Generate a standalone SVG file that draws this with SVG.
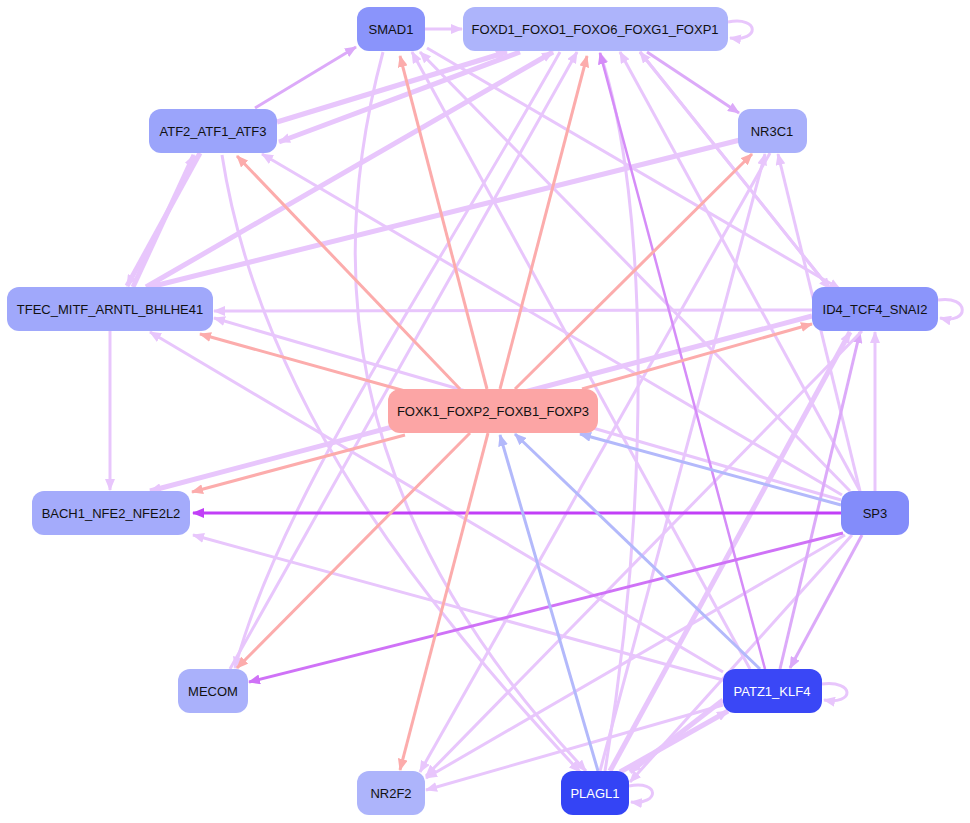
<svg xmlns="http://www.w3.org/2000/svg" width="970" height="823" viewBox="0 0 970 823">
<style>
.n text{font-family:"Liberation Sans",Arial,sans-serif;font-size:13px;text-anchor:middle;dominant-baseline:central;fill:#111}
.n rect{stroke:none}
.w text{fill:#fff}
.e path{fill:none;stroke-linecap:butt}
.lav{stroke:#e8c6fc;stroke-width:3}
.lavT{stroke:#e8c6fc;stroke-width:5}
.lavD{stroke:#dcaaf9;stroke-width:3}
.red{stroke:#fcacac;stroke-width:3}
.blu{stroke:#b3b9fb;stroke-width:3}
.pS{stroke:#c13ff7;stroke-width:3}
.pM{stroke:#cf72f7;stroke-width:3}
.pP{stroke:#d58cf8;stroke-width:2.5}
</style>
<defs>
<marker id="aL" markerUnits="userSpaceOnUse" markerWidth="12" markerHeight="10" refX="11" refY="5" orient="auto"><path d="M0,0 L12,5 L0,10 Z" fill="#e8c6fc"/></marker>
<marker id="aD" markerUnits="userSpaceOnUse" markerWidth="12" markerHeight="10" refX="11" refY="5" orient="auto"><path d="M0,0 L12,5 L0,10 Z" fill="#dcaaf9"/></marker>
<marker id="aR" markerUnits="userSpaceOnUse" markerWidth="12" markerHeight="10" refX="11" refY="5" orient="auto"><path d="M0,0 L12,5 L0,10 Z" fill="#fcacac"/></marker>
<marker id="aB" markerUnits="userSpaceOnUse" markerWidth="12" markerHeight="10" refX="11" refY="5" orient="auto"><path d="M0,0 L12,5 L0,10 Z" fill="#b3b9fb"/></marker>
<marker id="aS" markerUnits="userSpaceOnUse" markerWidth="12" markerHeight="10" refX="11" refY="5" orient="auto"><path d="M0,0 L12,5 L0,10 Z" fill="#c13ff7"/></marker>
<marker id="aM" markerUnits="userSpaceOnUse" markerWidth="12" markerHeight="10" refX="11" refY="5" orient="auto"><path d="M0,0 L12,5 L0,10 Z" fill="#cf72f7"/></marker>
<marker id="aP" markerUnits="userSpaceOnUse" markerWidth="12" markerHeight="10" refX="11" refY="5" orient="auto"><path d="M0,0 L12,5 L0,10 Z" fill="#d58cf8"/></marker>
</defs>
<g id="edges" class="e">
<path class="lav" d="M425,29 L462,29" marker-end="url(#aL)"/>
<path class="lav" d="M728,22 C760,16 760,42 730,38" marker-end="url(#aL)"/>
<path class="lavD" d="M255,108 L356,47" marker-end="url(#aD)"/>
<path class="lavT" d="M277,122 L507,52" marker-end="url(#aL)"/>
<path class="lavT" d="M520,52 L279,142" marker-end="url(#aL)"/>
<path class="lavT" d="M146,287 L553,52" marker-end="url(#aL)"/>
<path class="lavT" d="M200,153 L127,286" marker-end="url(#aL)"/>
<path class="lavT" d="M133,287 L194,155" marker-end="url(#aL)"/>
<path class="lavD" d="M647,52 L739,113" marker-end="url(#aD)"/>
<path class="lavT" d="M740,140 L150,287" marker-end="url(#aL)"/>
<path class="lav" d="M110,331 L110,490" marker-end="url(#aL)"/>
<path class="lav" d="M812,310 L214,311" marker-end="url(#aL)"/>
<path class="lav" d="M841,500 L214,318" marker-end="url(#aL)"/>
<path class="lavT" d="M812,316 L150,491" marker-end="url(#aL)"/>
<path class="lav" d="M938,300 C970,295 970,325 940,318" marker-end="url(#aL)"/>
<path class="lav" d="M875,491 L875,332" marker-end="url(#aL)"/>
<path class="lav" d="M842,495 L262,154" marker-end="url(#aL)"/>
<path class="lav" d="M850,491 L420,52" marker-end="url(#aL)"/>
<path class="lav" d="M860,491 L620,52" marker-end="url(#aL)"/>
<path class="lav" d="M860,491 L778,154" marker-end="url(#aL)"/>
<path class="lavD" d="M862,535 L790,668" marker-end="url(#aD)"/>
<path class="lav" d="M852,535 L630,782" marker-end="url(#aL)"/>
<path class="lav" d="M845,535 L426,778" marker-end="url(#aL)"/>
<path class="lav" d="M427,48 L840,289" marker-end="url(#aL)"/>
<path class="lav" d="M640,52 L830,289" marker-end="url(#aL)"/>
<path class="lav" d="M830,289 L640,52" marker-end="url(#aL)"/>
<path class="lav" d="M822,684 C855,680 855,705 824,700" marker-end="url(#aL)"/>
<path class="lav" d="M629,786 C660,780 660,805 631,802" marker-end="url(#aL)"/>
<path class="lav" d="M750,669 L412,52" marker-end="url(#aL)"/>
<path class="lav" d="M723,680 L193,535" marker-end="url(#aL)"/>
<path class="lav" d="M723,672 L150,332" marker-end="url(#aL)"/>
<path class="lavT" d="M723,700 L630,772" marker-end="url(#aL)"/>
<path class="lavT" d="M620,772 L728,711" marker-end="url(#aL)"/>
<path class="lav" d="M723,705 L426,790" marker-end="url(#aL)"/>
<path class="lavD" d="M780,669 L860,332" marker-end="url(#aD)"/>
<path class="lavT" d="M610,771 L850,332" marker-end="url(#aL)"/>
<path class="lav" d="M600,771 L765,154" marker-end="url(#aL)"/>
<path class="lav" d="M605,771 C650,500 650,200 600,53" marker-end="url(#aL)"/>
<path class="lav" d="M862,331 L426,776" marker-end="url(#aL)"/>
<path class="lav" d="M770,153 L420,772" marker-end="url(#aL)"/>
<path class="lav" d="M383,52 C330,250 330,500 586,771" marker-end="url(#aL)"/>
<path class="lav" d="M560,52 C420,300 280,500 235,668" marker-end="url(#aL)"/>
<path class="lav" d="M222,155 C260,400 420,600 580,772" marker-end="url(#aL)"/>
<path class="lav" d="M230,669 L577,52" marker-end="url(#aL)"/>
<path class="pP" d="M765,669 L600,53" marker-end="url(#aP)"/>
<path class="pS" d="M841,513 L193,513" marker-end="url(#aS)"/>
<path class="pM" d="M843,533 L249,682" marker-end="url(#aM)"/>
<path class="red" d="M487,389 L400,56" marker-end="url(#aR)"/>
<path class="red" d="M500,389 L587,56" marker-end="url(#aR)"/>
<path class="red" d="M460,389 L237,156" marker-end="url(#aR)"/>
<path class="red" d="M515,389 L752,154" marker-end="url(#aR)"/>
<path class="red" d="M405,391 L200,334" marker-end="url(#aR)"/>
<path class="red" d="M582,389 L812,324" marker-end="url(#aR)"/>
<path class="red" d="M405,435 L192,492" marker-end="url(#aR)"/>
<path class="red" d="M470,433 L237,668" marker-end="url(#aR)"/>
<path class="red" d="M488,433 L400,770" marker-end="url(#aR)"/>
<path class="blu" d="M841,505 L580,434" marker-end="url(#aB)"/>
<path class="blu" d="M760,669 L515,434" marker-end="url(#aB)"/>
<path class="blu" d="M598,771 L500,435" marker-end="url(#aB)"/>
</g>
<g id="SMAD1" class="n"><rect x="357" y="7" width="68" height="44" rx="12" fill="#8a94fb"/><text x="391" y="29">SMAD1</text></g>
<g id="FOXD1_FOXO1_FOXO6_FOXG1_FOXP1" class="n"><rect x="463" y="7" width="265" height="44" rx="12" fill="#adb4fb"/><text x="595" y="29">FOXD1_FOXO1_FOXO6_FOXG1_FOXP1</text></g>
<g id="ATF2_ATF1_ATF3" class="n"><rect x="149" y="109" width="128" height="44" rx="12" fill="#9ba4fb"/><text x="213" y="131">ATF2_ATF1_ATF3</text></g>
<g id="NR3C1" class="n"><rect x="738" y="109" width="69" height="44" rx="12" fill="#a9b0fb"/><text x="772" y="131">NR3C1</text></g>
<g id="TFEC_MITF_ARNTL_BHLHE41" class="n"><rect x="7" y="287" width="206" height="44" rx="12" fill="#a0a8fb"/><text x="110" y="309">TFEC_MITF_ARNTL_BHLHE41</text></g>
<g id="ID4_TCF4_SNAI2" class="n"><rect x="812" y="287" width="126" height="44" rx="12" fill="#8b95fb"/><text x="875" y="309">ID4_TCF4_SNAI2</text></g>
<g id="FOXK1_FOXP2_FOXB1_FOXP3" class="n"><rect x="388" y="389" width="210" height="44" rx="12" fill="#fca5a5"/><text x="493" y="411">FOXK1_FOXP2_FOXB1_FOXP3</text></g>
<g id="BACH1_NFE2_NFE2L2" class="n"><rect x="32" y="491" width="158" height="44" rx="12" fill="#a4abfb"/><text x="111" y="513">BACH1_NFE2_NFE2L2</text></g>
<g id="SP3" class="n"><rect x="841" y="491" width="68" height="44" rx="12" fill="#838cfa"/><text x="875" y="513">SP3</text></g>
<g id="MECOM" class="n"><rect x="178" y="669" width="70" height="44" rx="12" fill="#aab1fb"/><text x="213" y="691">MECOM</text></g>
<g id="PATZ1_KLF4" class="n w"><rect x="723" y="669" width="99" height="44" rx="12" fill="#3a47f6"/><text x="772" y="691">PATZ1_KLF4</text></g>
<g id="NR2F2" class="n"><rect x="357" y="771" width="68" height="44" rx="12" fill="#adb4fb"/><text x="391" y="793">NR2F2</text></g>
<g id="PLAGL1" class="n w"><rect x="561" y="771" width="68" height="44" rx="12" fill="#3444f5"/><text x="595" y="793">PLAGL1</text></g>
</svg>
